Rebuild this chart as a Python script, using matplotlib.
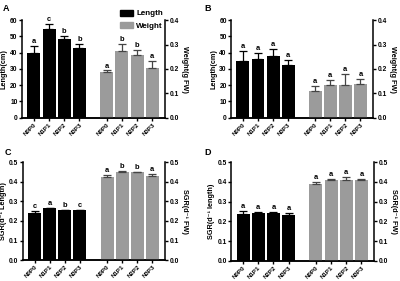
import numpy as np
import matplotlib
matplotlib.use("Agg")
import matplotlib.pyplot as plt

plt.rcParams["font.family"] = ["Liberation Sans", "DejaVu Sans"]
plt.rcParams["font.weight"] = "bold"
plt.rcParams["axes.labelweight"] = "bold"

groups = ["N0P0", "N1P1", "N2P2", "N3P3"]

# panel A
a_len = [40.0, 54.4, 48.2, 43.1]
a_len_err = [4.3, 3.5, 2.3, 2.3]
a_len_sig = ["a", "c", "b", "b"]
a_wt = [0.186, 0.273, 0.259, 0.203]
a_wt_err = [0.008, 0.031, 0.019, 0.029]
a_wt_sig = ["a", "b", "b", "a"]

# panel B
b_len = [34.8, 35.9, 37.9, 32.6]
b_len_err = [6.2, 3.9, 4.5, 3.1]
b_len_sig = ["a", "a", "a", "a"]
b_wt = [0.110, 0.136, 0.134, 0.139]
b_wt_err = [0.022, 0.018, 0.047, 0.021]
b_wt_sig = ["a", "a", "a", "a"]

# panel C
c_len = [0.242, 0.265, 0.255, 0.255]
c_len_err = [0.010, 0.003, 0.003, 0.003]
c_len_sig = ["c", "a", "b", "c"]
c_fw = [0.426, 0.451, 0.448, 0.430]
c_fw_err = [0.007, 0.005, 0.003, 0.010]
c_fw_sig = ["a", "b", "b", "a"]

# panel D
d_len = [0.239, 0.241, 0.244, 0.232]
d_len_err = [0.012, 0.005, 0.005, 0.009]
d_len_sig = ["a", "a", "a", "a"]
d_fw = [0.390, 0.408, 0.407, 0.407]
d_fw_err = [0.008, 0.006, 0.018, 0.010]
d_fw_sig = ["a", "a", "a", "a"]

GREY = "#9b9b9b"
FS = 4.8
pos_l = np.arange(4)
pos_r = np.arange(4) + 4.8


def style(ax):
    for s in ax.spines.values():
        s.set_linewidth(1.1)
    ax.spines["top"].set_visible(False)
    ax.tick_params(width=1.0, length=2.2, labelsize=FS, pad=1.0)


def bars(ax, pos, vals, errs, sig, color, ecolor):
    ax.bar(pos, vals, width=0.86, color=color, zorder=2)
    ax.errorbar(pos, vals, yerr=[np.zeros(4), errs], fmt="none", ecolor=ecolor,
                elinewidth=0.9, capsize=2.6, capthick=0.9, zorder=3)
    for x, v, e, s in zip(pos, vals, errs, sig):
        ax.annotate(s, (x, v + e), xytext=(0, 0.6), textcoords="offset points",
                    ha="center", va="bottom", fontsize=5.4, fontweight="bold")


def panel(rect, lv, le, ls, rv, re, rs, ylim_l, ylim_r, ticks_l, ticks_r,
          fmt_l, fmt_r, lab_l, lab_r):
    ax = fig.add_axes(rect)
    ax2 = ax.twinx()
    style(ax)
    style(ax2)
    ax.spines["right"].set_visible(False)
    ax2.spines["left"].set_visible(False)
    bars(ax, pos_l, lv, le, ls, "black", "black")
    bars(ax2, pos_r, rv, re, rs, GREY, "#444444")
    ax.set_xlim(-0.78, 8.65)
    ax.set_ylim(*ylim_l)
    ax2.set_ylim(*ylim_r)
    ax.set_yticks(ticks_l)
    ax.set_yticklabels([fmt_l.format(t) for t in ticks_l])
    ax2.set_yticks(ticks_r)
    ax2.set_yticklabels([fmt_r.format(t) for t in ticks_r])
    ax.set_xticks(np.concatenate([pos_l, pos_r]))
    ax.set_xticklabels(groups + groups, rotation=45, ha="right",
                       rotation_mode="anchor", fontsize=4.5)
    ax.set_ylabel(lab_l, fontsize=5.2, labelpad=1.5)
    ax2.set_ylabel(lab_r, fontsize=5.2, rotation=270, labelpad=6.5)
    return ax, ax2


fig = plt.figure(figsize=(4.0, 2.81), dpi=100)

panel([0.055, 0.581, 0.358, 0.347], a_len, a_len_err, a_len_sig,
      a_wt, a_wt_err, a_wt_sig, (0, 60), (0, 0.4),
      np.arange(0, 61, 10), np.arange(0, 0.41, 0.1), "{:.0f}", "{:.1f}",
      "Length(cm)", "Weight(g FW)")
panel([0.578, 0.581, 0.355, 0.347], b_len, b_len_err, b_len_sig,
      b_wt, b_wt_err, b_wt_sig, (0, 60), (0, 0.4),
      np.arange(0, 61, 10), np.arange(0, 0.41, 0.1), "{:.0f}", "{:.1f}",
      "Length(cm)", "Weight(g FW)")
panel([0.057, 0.074, 0.356, 0.349], c_len, c_len_err, c_len_sig,
      c_fw, c_fw_err, c_fw_sig, (0, 0.5), (0, 0.5),
      np.arange(0, 0.51, 0.1), np.arange(0, 0.51, 0.1), "{:.1f}", "{:.1f}",
      "SGR(d\u207b\u00b9 Length)", "SGR(d\u207b\u00b9 FW)")
panel([0.578, 0.072, 0.358, 0.351], d_len, d_len_err, d_len_sig,
      d_fw, d_fw_err, d_fw_sig, (0, 0.5), (0, 0.5),
      np.arange(0, 0.51, 0.1), np.arange(0, 0.51, 0.1), "{:.1f}", "{:.1f}",
      "SGR(d\u207b\u00b9 length)", "SGR(d\u207b\u00b9 FW)")

# legend in panel A
h1 = plt.Rectangle((0, 0), 1, 1, color="black")
h2 = plt.Rectangle((0, 0), 1, 1, color=GREY)
fig.legend([h1, h2], ["Length", "Weight"], loc="upper left",
           bbox_to_anchor=(0.300, 0.966), frameon=False, fontsize=5.8,
           handlelength=1.6, handleheight=0.8, handletextpad=0.4,
           labelspacing=0.55, borderpad=0, borderaxespad=0)

for lab, x, y in [("A", 0.008, 0.985), ("B", 0.51, 0.985),
                  ("C", 0.012, 0.475), ("D", 0.512, 0.475)]:
    fig.text(x, y, lab, fontsize=6.5, fontweight="bold", ha="left", va="top")

fig.savefig("out.png", dpi=100)
